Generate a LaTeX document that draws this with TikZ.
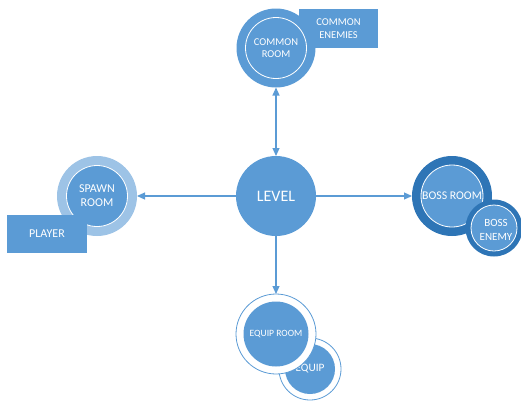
\documentclass[tikz,border=0pt]{standalone}
\usepackage{fontspec}
\setmainfont{Carlito}
\usetikzlibrary{arrows.meta}
\definecolor{mid}{HTML}{5B9BD5}
\definecolor{pale}{HTML}{9DC3E6}
\definecolor{deep}{HTML}{2E75B6}
\begin{document}
\begin{tikzpicture}[x=1pt,y=-1pt,
  disc/.style={circle, inner sep=0pt, outer sep=0pt, minimum size=#1},
  box/.style={rectangle, fill=mid, inner sep=0pt, outer sep=0pt},
  lbl/.style={text=white, align=center},
  ring/.style={draw=white, line width=0.8pt},
  rim/.style={draw=mid, line width=0.8pt, fill=white},
  arr/.style={draw=mid, line width=1.1pt, -{Triangle[length=8pt,width=7pt]}},
  arrboth/.style={draw=mid, line width=1.1pt, {Triangle[length=8pt,width=7pt]}-{Triangle[length=8pt,width=7pt]}}]
\useasboundingbox (0,0) rectangle (521,400);

% central level
\node[disc=80pt, fill=mid, lbl, font=\fontsize{16}{19}\selectfont] (level) at (276,196) {LEVEL};

% common room with its enemies
\node[box, minimum width=79pt, minimum height=39pt, lbl,
      font=\fontsize{10.5}{12.7}\selectfont] (enemies) at (338.5,28.5) {COMMON\\ENEMIES};
\node[disc=79pt, fill=mid] (common) at (276,48) {};
\node[disc=61pt, fill=mid, ring, lbl, font=\fontsize{10.5}{12.7}\selectfont] (commonin) at (common) {COMMON\\ROOM};

% spawn room with the player
\node[disc=80pt, fill=pale] (spawn) at (97,196) {};
\node[disc=61pt, fill=mid, ring, lbl, font=\fontsize{12}{14}\selectfont] (spawnin) at (spawn) {SPAWN\\ROOM};
\node[box, minimum width=80pt, minimum height=38pt, lbl,
      font=\fontsize{12}{14}\selectfont] (player) at (47,234) {PLAYER};

% boss room with the boss
\node[disc=80pt, fill=deep] (boss) at (452,196) {};
\node[disc=62pt, fill=mid, ring, lbl, font=\fontsize{11.8}{14}\selectfont] (bossin) at (boss) {BOSS ROOM};
\node[disc=57pt, fill=deep] (bossenemy) at (494,228) {};
\node[disc=46pt, fill=mid, ring] (bossenemyin) at (bossenemy) {};
\node[lbl, font=\fontsize{11}{14.5}\selectfont] (bossenemytxt) at (496,230) {BOSS\\ENEMY};

% equipment room with the equipment
\node[disc=62pt, rim] (equip) at (310,369) {};
\node[disc=50pt, fill=mid, lbl, font=\fontsize{11.3}{13}\selectfont] (equipin) at (equip) {EQUIP};
\node[disc=80pt, rim] (equiproom) at (276,334) {};
\node[disc=65pt, fill=mid, lbl, font=\fontsize{9.6}{12}\selectfont] (equiproomin) at (equiproom) {EQUIP ROOM};

% connections from the level
\draw[arrboth] (level.north) -- (common.south);
\draw[arr] (level.west) -- (spawn.east);
\draw[arr] (level.east) -- (boss.west);
\draw[arr] (level.south) -- (equiproom.north);
\end{tikzpicture}
\end{document}
